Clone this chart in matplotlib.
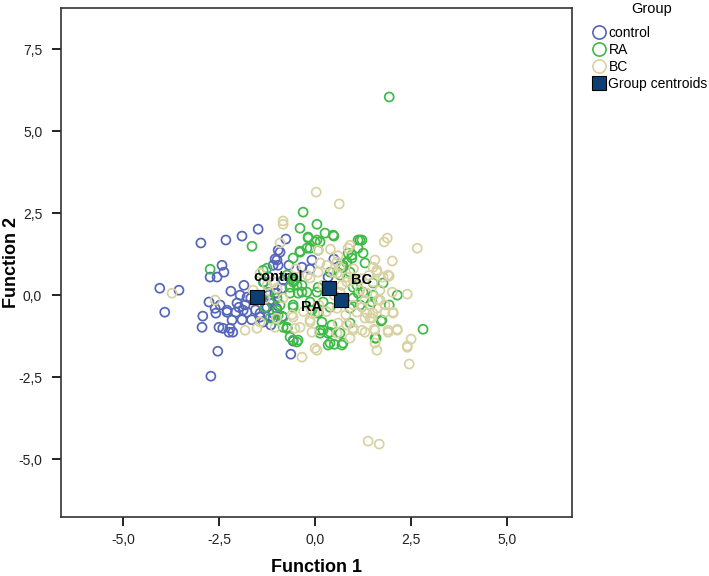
import matplotlib
matplotlib.use("Agg")
import matplotlib.pyplot as plt
from matplotlib.lines import Line2D
from matplotlib.ticker import FuncFormatter

plt.rcParams['font.family'] = ['Liberation Sans', 'DejaVu Sans']

# discriminant scores
control_x = [-2.97, -2.32, -1.90, -1.48, -0.76, -0.91, -1.04, -0.96, -0.68, -0.34, -0.13, -0.08, 0.49,
             -2.42, -2.37, -2.73, -2.55, -2.19, -1.85, -4.04, -3.54, -1.33, -1.20, -0.83, -1.95, 0.34,
             -3.91, -2.76, -2.47, -2.92, -2.94, -2.58, -2.50, -2.29, -2.16, -2.40, -2.24, -2.14, -2.06,
             -1.98, -1.82, -1.77, -1.67, -2.53, -2.71, -1.43, -1.35, -1.15, -1.09, -1.20, -0.99, -1.25,
             -0.86, -0.57, -0.63, -0.73, -1.12, -0.96, -1.09, -1.77, -2.29, -2.03, -1.87, -1.17, -1.04,
             -0.99, -1.43, -1.09, -2.21, -1.30, -1.55, -1.65, -1.00, -0.85, -1.90, -2.60]
control_y = [1.59, 1.68, 1.80, 2.01, 1.71, 1.31, 1.10, 0.91, 0.91, 0.85, 0.79, 1.07, 1.10,
             0.91, 0.70, 0.55, 0.55, 0.12, 0.30, 0.21, 0.15, 0.40, 0.55, 0.46, 0.00, 0.55,
             -0.52, -0.21, -0.30, -0.64, -0.98, -0.55, -0.98, -0.52, -0.76, -1.01, -1.13, -1.13, -0.52,
             -0.37, -0.30, -0.52, -0.09, -1.71, -2.47, -0.55, -0.82, -0.91, -0.55, 0.00, 0.06, -0.37,
             0.21, -1.40, -1.80, -1.01, -0.24, 1.37, 0.91, -0.06, -0.46, -0.24, -0.46, -0.15, 0.06,
             1.07, -0.67, -0.70, -1.01, -0.40, -0.45, -0.75, -0.40, -0.65, -0.75, -0.40]

ra_x = [-1.64, -0.31, 0.05, 0.26, 0.49, -0.18, 0.00, 0.13, -0.39, -0.21, 1.12, -2.73, -1.35, -0.57,
        -0.47, -0.34, -0.65, 0.86, 0.96, 0.83, 0.73, 0.39, 0.99, 0.08, 1.12,
        1.93, 1.22, 1.25, 1.30, 1.77, 1.51, 2.14,
        1.93, 1.72, 1.59, 2.81, 1.43,
        -0.96, -0.83, -0.47, 0.13, 0.39, 0.50, 0.34, 0.73, 0.65, 0.91,
        -0.65, -0.57, -0.44, -0.57, -0.73, -0.65, 0.13, -0.08, 0.08, -1.30, -0.99, -1.17, -0.83,
        -0.99, -0.73, -0.57, -0.44, 0.18, 0.39, 0.34, 0.70, 0.44, 0.21,
        1.74, 1.56,
        -0.39, -0.18, 0.05, 0.47, -0.13, 0.08, -0.39, -0.57, -0.73, -0.57, -0.34, -0.21, 0.05,
        1.17, 1.12, 0.96, 0.83, 0.73, 0.91, 0.65, 1.09, 1.25, -1.25, -1.35, -1.22, -0.99, -0.91,
        -0.57, -0.13, 0.21, 0.08, 0.39, 0.99, 1.17, 0.91, 1.51, 1.48]
ra_y = [1.49, 2.53, 2.16, 1.89, 1.80, 1.74, 1.62, 1.62, 1.34, 1.43, 1.68, 0.79, 0.76, 0.55,
        0.30, 0.09, 0.06, 1.28, 1.13, 0.98, 0.85, 0.70, 0.24, 0.24, 0.06,
        6.04, 1.68, 1.28, 0.98, 0.37, 0.37, 0.00,
        -0.30, -0.79, -1.31, -1.04, -0.30,
        -0.61, -0.98, -1.43, -1.07, -1.46, -1.50, -1.16, -1.46, -1.16, -0.85,
        0.24, 0.46, 0.06, -0.37, -0.98, -1.28, -1.16, -0.46, -0.55, -0.37, -0.46, -0.70, -0.67,
        -0.76, -1.01, -1.37, -1.37, -0.82, -1.13, -1.52, -1.52, -0.91, -1.07,
        -0.76, -1.31,
        2.04, 1.77, 1.68, 1.83, 1.43, 1.37, 1.31, 1.13, 0.61, 0.40, 0.30, 0.09, 0.09,
        1.68, 1.43, 1.22, 1.01, 0.91, 0.70, 0.61, 0.30, 0.09, 0.82, 0.40, 0.09, -0.09, -0.30,
        -0.30, -0.21, -0.21, -0.52, -0.37, -0.09, -0.30, -0.40, 0.00, -0.21]

bc_x = [0.03, 0.63, -0.83, -0.91, 0.08, 0.13, 0.65, 0.86, -3.72, 0.57, 0.83, 0.99, -1.43, -1.61,
        1.80, 1.88, 2.66, 1.56, 2.01, 1.51, 1.61, 1.93, 1.69, 2.40, 1.17, 1.35,
        1.61, 1.77, 1.90, 1.51, 2.01, 1.69, 1.82, 1.61, 2.03,
        2.03, 1.82, 1.51, 1.30, 1.35, 1.48, 1.30, 1.54, 1.90, 2.14, 2.50, 2.40, 1.61, 1.56, 2.45,
        1.38, 1.67, 1.22, 1.64,
        1.43, 1.56, 1.90, 2.14, 2.40,
        -1.43, -0.57, -0.13, -0.08, 0.00, -0.34, 0.60, 0.83, 0.99, 0.91, 1.22, 0.57, 1.30, -0.52,
        -1.82, -1.51, -1.04, 0.05, -0.39, -0.13, 0.00, 0.99,
        -2.60, -0.83, 0.31, 0.57, 0.47, 0.91, 0.65, 0.83, 0.57, 1.09, -0.13, 0.08, -1.09, -0.99,
        -1.25, -0.83,
        0.20, 0.50, 0.70, 1.00, 0.30, 0.80, 1.00, 0.10, -0.30, 0.60, -0.50, -0.20, 1.20, 1.40,
        0.40, -0.60, -1.00, -1.30]
bc_y = [3.14, 2.78, 2.16, 1.59, 1.37, 0.98, 0.85, 1.43, 0.06, 0.67, 0.55, 0.46, 0.67, 0.15,
        1.62, 1.74, 1.43, 1.07, 1.04, 0.85, 0.70, 0.58, 0.15, 0.03, 0.15, 0.06,
        0.76, 0.55, 0.61, 0.40, 0.09, -0.15, -0.30, -0.40, -0.52,
        -0.55, -0.52, -0.55, -0.15, -0.55, -0.70, -1.13, -1.04, -1.07, -1.07, -1.34, -1.55, -1.68,
        -1.46, -2.10,
        -4.45, -4.54, -0.37, -0.15,
        -0.70, -1.07, -1.13, -1.04, -1.59,
        -0.82, -0.67, -0.76, -1.13, -1.62, -1.89, -0.85, -0.91, -1.01, -1.31, -1.07, -1.16, -0.70,
        -1.01,
        -1.07, -1.01, -0.98, -1.68, -0.98, -0.82, -0.52, -1.07,
        -0.15, 2.26, 0.91, 1.01, 0.70, 1.52, 0.09, 0.40, -0.40, -0.52, 0.52, 0.70, 0.40, 0.21,
        0.30, -0.09,
        0.30, 0.00, 0.30, 0.80, -0.50, -0.60, -0.30, -0.30, -0.50, 1.20, 0.80, 0.60, 0.50, 0.60,
        1.40, -0.60, -0.70, -0.10]

groups = ['control', 'RA', 'BC']
colors = ['#5565ba', '#3fba47', '#d8d2a2']

centroid_x = [-1.50, 0.68, 0.36]
centroid_y = [-0.05, -0.15, 0.21]
centroid_labels = ['control', 'RA', 'BC']
label_x = [-0.96, -0.10, 1.22]
label_y = [0.55, -0.37, 0.46]

x_ticks = [-5.0, -2.5, 0.0, 2.5, 5.0]
y_ticks = [-5.0, -2.5, 0.0, 2.5, 5.0, 7.5]


fig = plt.figure(figsize=(7.09, 5.76), dpi=100)
ax = fig.add_axes([0.086, 0.102, 0.721, 0.884])

series = [(control_x, control_y), (ra_x, ra_y), (bc_x, bc_y)]
for (xs, ys), col in zip(series, colors):
    ax.scatter(xs, ys, s=42, facecolors='none', edgecolors=col, linewidths=1.25, zorder=2)

ax.scatter(centroid_x, centroid_y, s=115, marker='s', color='#0e3f74', edgecolors='black',
           linewidths=0.8, zorder=4)
for lx, ly, txt in zip(label_x, label_y, centroid_labels):
    ax.text(lx, ly, txt, ha='center', va='center', fontsize=10.5, fontweight='bold', zorder=5)

ax.set_xlim(-6.61, 6.69)
ax.set_ylim(-6.77, 8.75)
ax.set_xticks(x_ticks)
ax.set_yticks(y_ticks)
comma = FuncFormatter(lambda v, p: f'{v:.1f}'.replace('.', ','))
ax.xaxis.set_major_formatter(comma)
ax.yaxis.set_major_formatter(comma)
ax.tick_params(direction='out', length=6.5, width=1.4, labelsize=10, colors='#222222')
ax.tick_params(axis='y', pad=7)
ax.tick_params(axis='x', pad=5)

for sp in ax.spines.values():
    sp.set_linewidth(1.2)
    sp.set_color('#333333')

# axis titles
fig.text(0.447, 1 - 568 / 576, 'Function 1', ha='center', va='center', fontsize=13, fontweight='bold')
fig.text(12 / 709, 1 - 262 / 576, 'Function 2', ha='center', va='center', rotation=90,
         fontsize=13, fontweight='bold')

# legend
fig.text(652 / 709, 1 - 9 / 576, 'Group', ha='center', va='center', fontsize=10.5)
handles = [Line2D([], [], ls='', marker='o', mfc='none', mec=c, ms=9.5, mew=1.2) for c in colors]
handles.append(Line2D([], [], ls='', marker='s', mfc='#0e3f74', mec='black', ms=9.5, mew=0.8))
leg = fig.legend(handles, groups + ['Group centroids'], loc='upper left',
                 bbox_to_anchor=(589 / 709, 1 - 26 / 576), frameon=False, fontsize=10,
                 handletextpad=0.0, labelspacing=0.22, handlelength=1.4, borderaxespad=0,
                 borderpad=0)

fig.savefig('out.png', dpi=100)
